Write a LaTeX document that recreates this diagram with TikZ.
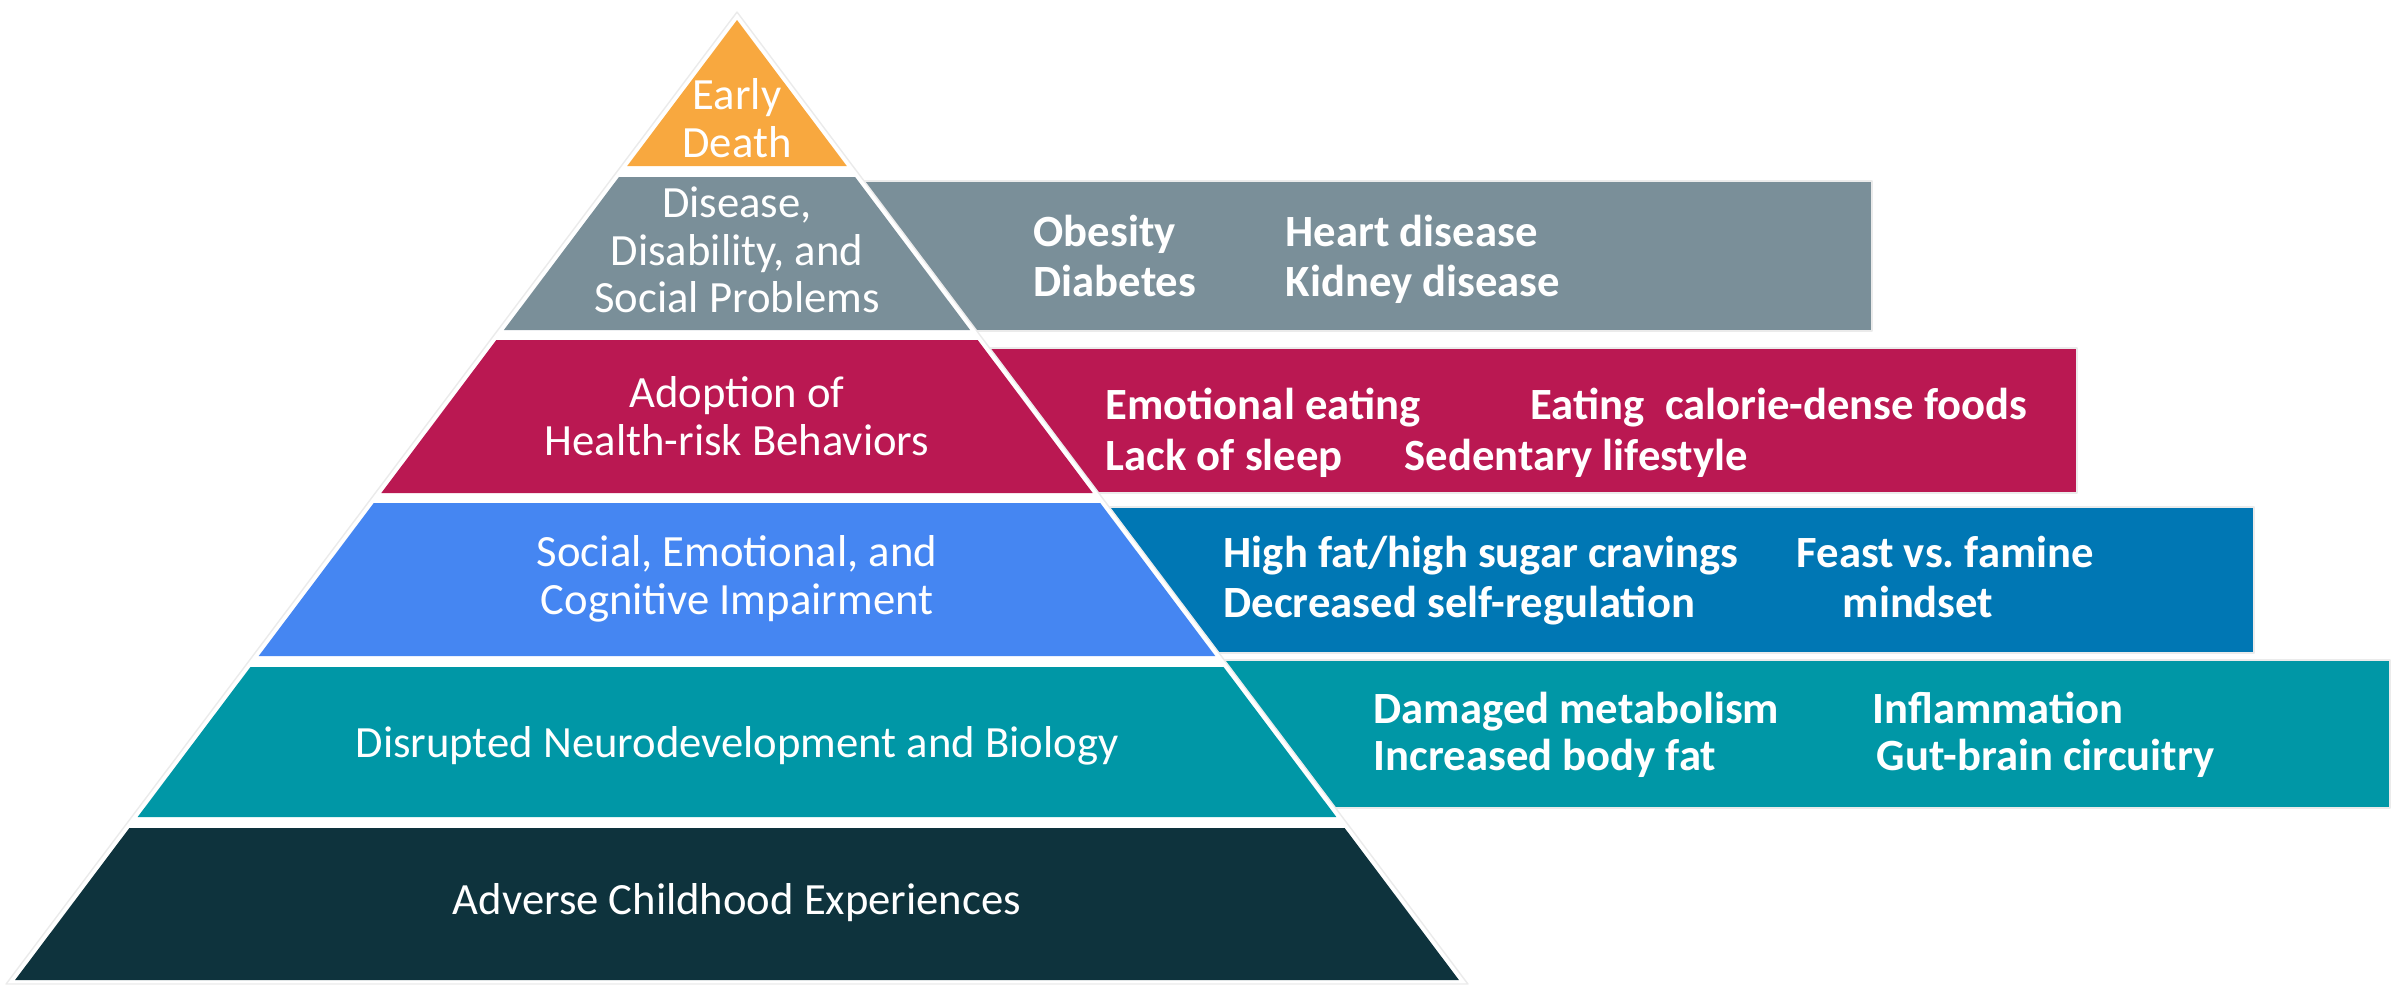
\documentclass[tikz,border=0pt]{standalone}
\usepackage{fontspec}
\setmainfont{Carlito}
\usetikzlibrary{positioning}

\definecolor{deathorange}{HTML}{F8A83F}
\definecolor{diseasegray}{HTML}{7A8F99}
\definecolor{riskred}{HTML}{BA1852}
\definecolor{impairblue}{HTML}{4586F2}
\definecolor{cravingblue}{HTML}{0077B4}
\definecolor{neuroteal}{HTML}{0097A6}
\definecolor{acedark}{HTML}{0E333D}

\tikzset{
    tier/.style={text=white, align=center, inner sep=0pt,
        font=\fontsize{12.7}{13.5}\selectfont},
    effect/.style={text=white, anchor=west, inner sep=0pt,
        text height=1.6ex, text depth=0.5ex,
        font=\bfseries\fontsize{12.7}{13.5}\selectfont},
    sidebox/.style={draw=black!8, line width=0.8pt},
}

\begin{document}
\begin{tikzpicture}[x=0.01cm, y=-0.01cm, line join=round]
    \useasboundingbox (0,0) rectangle (2402,984);
    \pgfmathsetmacro{\slope}{0.752}
    \pgfmathsetmacro{\apexx}{737}

    % boxes on the right, behind the pyramid
    \filldraw[sidebox, fill=diseasegray] (760,181) rectangle (1872,331);
    \filldraw[sidebox, fill=riskred] (760,348) rectangle (2077,493);
    \filldraw[sidebox, fill=cravingblue] (760,507) rectangle (2254,653);
    \filldraw[sidebox, fill=neuroteal] (760,660) rectangle (2390,808);

    % white rim of the pyramid
    \filldraw[fill=white, draw=black!8] (\apexx,12) -- ({\apexx+\slope*972},984) -- ({\apexx-\slope*972},984) -- cycle;

    % tiers
    \fill[deathorange] (\apexx,20) -- ({\apexx+\slope*146},166) -- ({\apexx-\slope*146},166) -- cycle;
    \foreach \ya/\yb/\tiercol in {177/330/diseasegray, 340/493/riskred, 503/656/impairblue, 667/817/neuroteal, 828/980/acedark}
        \fill[\tiercol] ({\apexx-\slope*(\ya-20)},\ya) -- ({\apexx+\slope*(\ya-20)},\ya) -- ({\apexx+\slope*(\yb-20)},\yb) -- ({\apexx-\slope*(\yb-20)},\yb) -- cycle;

    \node[tier] (death) at (737,118) {Early\\Death};
    \node[tier] (disease) at (737,250) {Disease,\\Disability, and\\Social Problems};
    \node[tier] (behaviors) at (737,416) {Adoption of\\Health-risk Behaviors};
    \node[tier] (impairment) at (737,579) {Social, Emotional, and\\Cognitive Impairment};
    \node[tier] (neuro) at (737,746) {Disrupted Neurodevelopment and Biology};
    \node[tier] (ace) at (737,903) {Adverse Childhood Experiences};

    \node[effect] (obesity) at (1033,237) {Obesity};
    \node[effect] (diabetes) at (1033,287) {Diabetes};
    \node[effect] (heart) at (1285,237) {Heart disease};
    \node[effect] (kidney) at (1285,287) {Kidney disease};

    \node[effect] (emotional) at (1105,410) {Emotional eating};
    \node[effect] (sleep) at (1105,461) {Lack of sleep};
    \node[effect] (calorie) at (1530,410) {Eating~ calorie-dense foods};
    \node[effect] (sedentary) at (1404,461) {Sedentary lifestyle};

    \node[effect] (cravings) at (1223,558) {High fat/high sugar cravings};
    \node[effect] (selfreg) at (1223,608) {Decreased self-regulation};
    \node[effect] (feast) at (1796,558) {Feast vs.\ famine};
    \node[effect] (mindset) at (1842,608) {mindset};

    \node[effect] (metabolism) at (1373,714) {Damaged metabolism};
    \node[effect] (bodyfat) at (1373,761) {Increased body fat};
    \node[effect] (inflammation) at (1872,714) {Inflammation};
    \node[effect] (gutbrain) at (1876,761) {Gut-brain circuitry};
\end{tikzpicture}
\end{document}
